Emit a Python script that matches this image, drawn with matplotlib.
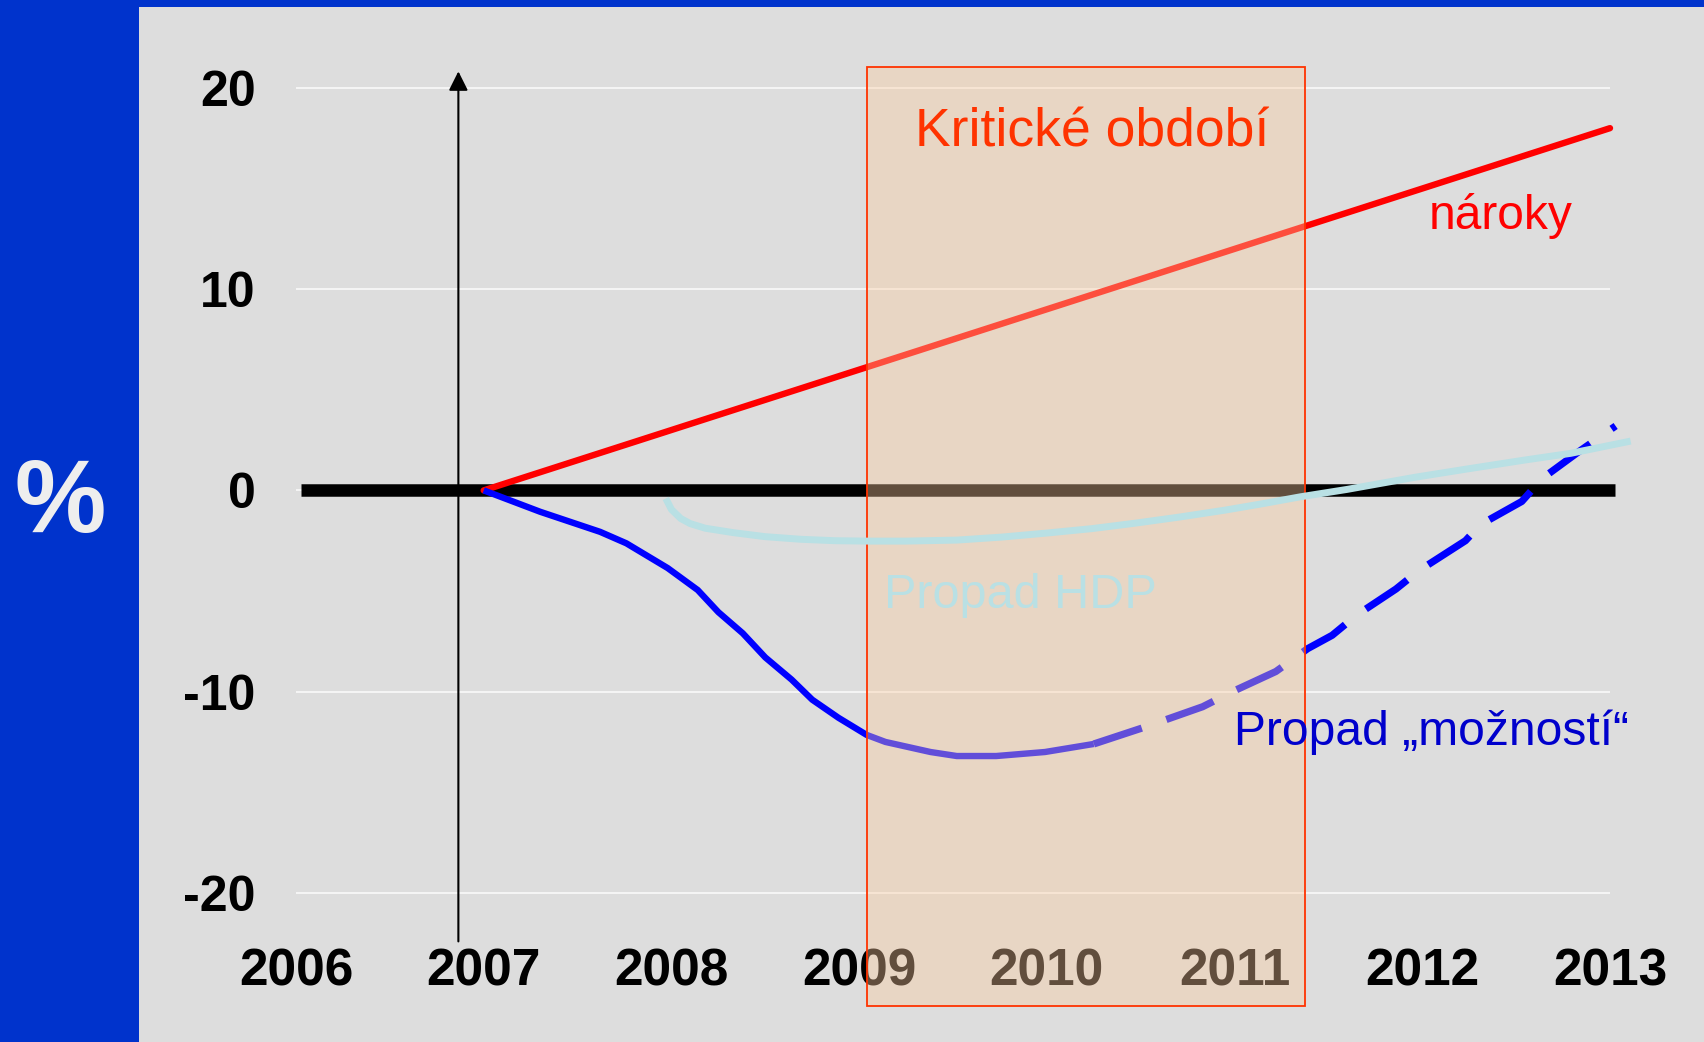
import matplotlib
matplotlib.use("Agg")
import matplotlib.pyplot as plt
from matplotlib.patches import Rectangle

plt.rcParams['font.family'] = ['Liberation Sans', 'DejaVu Sans']
plt.rcParams['axes.unicode_minus'] = False

# osa x a y
years = [2006, 2007, 2008, 2009, 2010, 2011, 2012, 2013]
y_ticks = [-20, -10, 0, 10, 20]

# naroky - primka
naroky_x = [2007, 2013]
naroky_y = [0, 18]

# propad moznosti - plna cast
moznosti_x = [2007.0, 2007.3, 2007.62, 2007.76, 2007.98, 2008.14, 2008.25, 2008.38, 2008.5,
              2008.64, 2008.75, 2008.89, 2009.04, 2009.14, 2009.38, 2009.52, 2009.73,
              2009.99, 2010.25]
moznosti_y = [0, -1.06, -2.06, -2.63, -3.86, -4.95, -6.05, -7.1, -8.3,
              -9.4, -10.4, -11.3, -12.15, -12.5, -13.0, -13.2, -13.2,
              -13.0, -12.6]

# propad moznosti - odhad (carkovane)
odhad_x = [2010.25, 2010.51, 2010.83, 2011.0, 2011.22, 2011.39, 2011.52, 2011.65,
           2011.86, 2011.98, 2012.23, 2012.31, 2012.53, 2012.64, 2012.83, 2013.03]
odhad_y = [-12.6, -11.8, -10.75, -9.95, -9.0, -7.86, -7.2, -6.2,
           -4.9, -4.0, -2.5, -1.7, -0.55, 0.6, 1.9, 3.2]

# propad HDP
hdp_x = [2007.97, 2008.0, 2008.05, 2008.1, 2008.18, 2008.33, 2008.5, 2008.69, 2008.87,
         2009.04, 2009.25, 2009.52, 2009.76, 2010.0, 2010.24, 2010.47, 2010.71,
         2010.95, 2011.15, 2011.35, 2011.6, 2011.96, 2012.25, 2012.54, 2012.79, 2013.11]
hdp_y = [-0.4, -0.95, -1.4, -1.65, -1.88, -2.1, -2.3, -2.43, -2.5,
         -2.52, -2.52, -2.47, -2.32, -2.12, -1.9, -1.63, -1.32,
         -0.98, -0.66, -0.32, 0.05, 0.65, 1.08, 1.5, 1.84, 2.45]

# kriticke obdobi
krit_od = 2009.04
krit_do = 2011.375
krit_dole = -25.6
krit_nahore = 21.05

W, H = 1704, 1042
fig = plt.figure(figsize=(W / 100, H / 100), dpi=100)
fig.patch.set_facecolor('#DDDDDD')

# modry ramecek vlevo a nahore
fig.patches.append(Rectangle((0, 0), 139 / W, 1, transform=fig.transFigure,
                             facecolor='#0033CC', edgecolor='none', zorder=0))
fig.patches.append(Rectangle((0, 1 - 7 / H), 1, 7 / H, transform=fig.transFigure,
                             facecolor='#0033CC', edgecolor='none', zorder=0))
fig.text(60 / W, 1 - 506 / H, '%', color='#EEEEEE', fontsize=74, fontweight='bold',
         ha='center', va='center')

ax = fig.add_axes([296 / W, 97 / H, 1314 / W, 938 / H])
ax.set_facecolor('none')
ax.set_xlim(2006, 2013)
ax.set_ylim(-22.59, 24.02)
for s in ax.spines.values():
    s.set_visible(False)

ax.set_xticks(years)
ax.set_yticks(y_ticks)
ax.tick_params(length=0)
ax.tick_params(axis='x', pad=1.5, labelsize=37)
ax.tick_params(axis='y', pad=29, labelsize=36)
for lab in ax.get_xticklabels() + ax.get_yticklabels():
    lab.set_fontweight('bold')
ax.set_axisbelow(True)
ax.grid(axis='y', color='#F4F4F4', lw=1.5)
ax.grid(axis='x', visible=False)

# nulova osa
ax.axhline(0, xmin=0.004, xmax=1.004, color='black', lw=9, solid_capstyle='butt',
           clip_on=False, zorder=2)

ax.annotate('', xy=(2006.865, 20.96), xytext=(2006.865, -22.55),
            arrowprops=dict(arrowstyle='-|>', color='black', lw=1.5, mutation_scale=29),
            zorder=2, annotation_clip=False)

ax.plot(naroky_x, naroky_y, color='#FF0000', lw=4.6, solid_capstyle='round',
        clip_on=False, zorder=2)
ax.plot(moznosti_x, moznosti_y, color='#0000FF', lw=4.6, solid_capstyle='butt',
        clip_on=False, zorder=2)
ax.plot(odhad_x, odhad_y, color='#0000FF', lw=5.2, dashes=(7, 3.6),
        clip_on=False, zorder=2)

ax.add_patch(Rectangle((krit_od, krit_dole), krit_do - krit_od, krit_nahore - krit_dole,
                       facecolor='#FBCB9F', alpha=0.39, edgecolor='none',
                       clip_on=False, zorder=3))
ax.add_patch(Rectangle((krit_od, krit_dole), krit_do - krit_od, krit_nahore - krit_dole,
                       fill=False, edgecolor='#FF3300', lw=1.3,
                       clip_on=False, zorder=3.1))

ax.plot(hdp_x, hdp_y, color='#B9E0E4', lw=5, solid_capstyle='butt',
        clip_on=False, zorder=4)

ax.text(2010.24, 17.8, 'Kritické období', color='#FF3300', fontsize=38.5,
        ha='center', va='center', zorder=5)
ax.text(2012.42, 13.0, 'nároky', color='#FF0000', fontsize=34.5,
        ha='center', va='baseline', zorder=5)
ax.text(2009.13, -5.85, 'Propad HDP', color='#B9E0E4', fontsize=35,
        ha='left', va='baseline', zorder=5)
ax.text(2010.995, -12.65, 'Propad „možností“', color='#0000CC', fontsize=34.6,
        ha='left', va='baseline', zorder=5)

fig.savefig('out.png', dpi=100, facecolor=fig.get_facecolor())
